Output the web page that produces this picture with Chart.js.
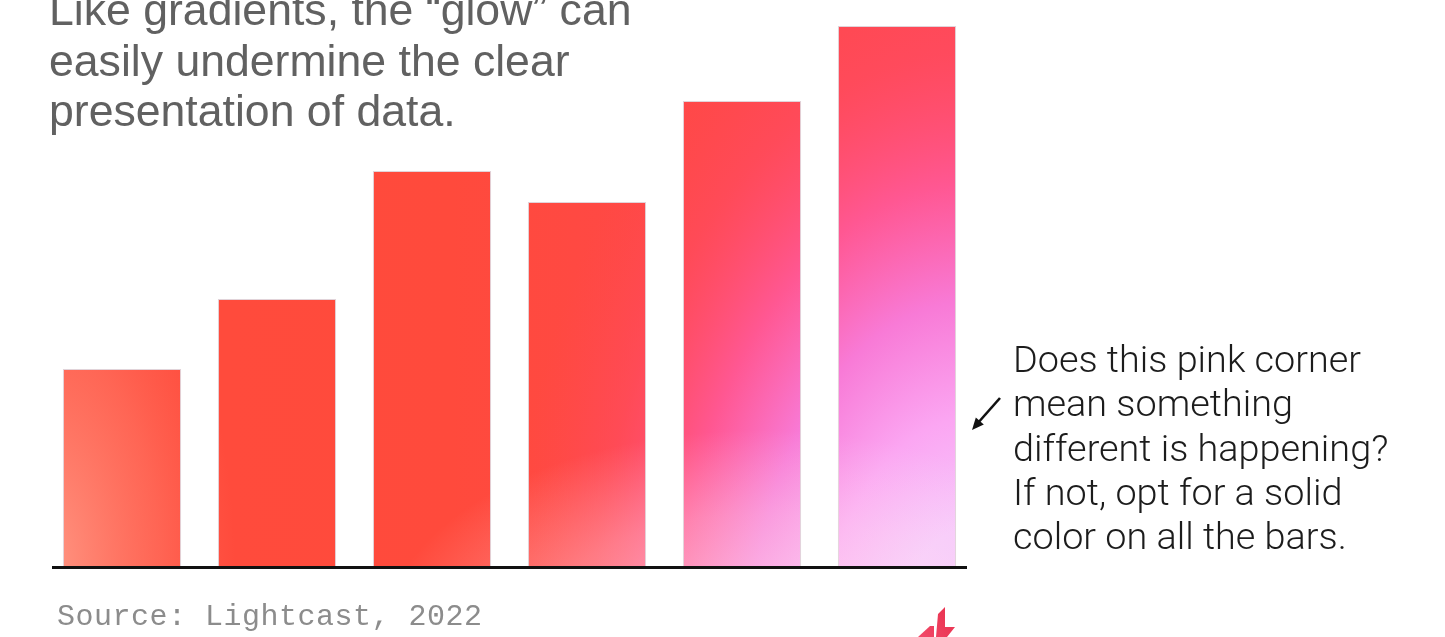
<!DOCTYPE html>
<html>
<head>
<meta charset="utf-8">
<script src="https://cdn.jsdelivr.net/npm/chart.js@4/dist/chart.umd.min.js"></script>
<style>
  html, body { margin: 0; padding: 0; background: #ffffff; }
  #wrap { position: relative; width: 1445px; height: 637px; overflow: hidden; background: #fff; }
  #c { position: absolute; left: 0; top: 0; }
  .title { position: absolute; left: 49px; top: -15px; font-family: "Liberation Sans", Arial, sans-serif; font-size: 44.6px; line-height: 50.5px; color: #616161; white-space: nowrap; }
  .note { position: absolute; left: 1013px; top: 337px; font-family: "Roboto", "Liberation Sans", sans-serif; font-weight: 300; font-size: 37.8px; line-height: 44.3px; color: #1c1c1c; white-space: nowrap; }
  .source { position: absolute; left: 57px; top: 600px; font-family: "Liberation Mono", "DejaVu Sans Mono", monospace; font-size: 30px; line-height: 34px; color: #8c8c8c; white-space: nowrap; letter-spacing: 0.5px; }
</style>
</head>
<body>
<div id="wrap">
  <canvas id="c" width="1445" height="637"></canvas>
  <div class="title">Like gradients, the “glow” can<br>easily undermine the clear<br>presentation of data.</div>
  <div class="note">Does this pink corner<br>mean something<br>different is happening?<br>If not, opt for a solid<br>color on all the bars.</div>
  <div class="source">Source: Lightcast, 2022</div>
</div>
<script>
// ---- data ----
const categories = ['Bar 1', 'Bar 2', 'Bar 3', 'Bar 4', 'Bar 5', 'Bar 6'];
const values = [197, 267, 395, 364, 465, 540];
const yMin = 0;
const yMax = 540;

// ---- glow fill (a pattern painted across the whole canvas) ----
let glowPattern = null;
function getGlow(ctx) {
  if (glowPattern) return glowPattern;
  const W = 1445, H = 637;
  const off = document.createElement('canvas');
  off.width = W; off.height = H;
  const g = off.getContext('2d');
  const base = g.createLinearGradient(0, 0, 1000, 0);
  base.addColorStop(0, '#ff4c3c');
  base.addColorStop(0.45, '#ff4a3c');
  base.addColorStop(0.7, '#ff4848');
  base.addColorStop(1, '#ff4858');
  g.fillStyle = base;
  g.fillRect(0, 0, W, H);

  // coral glow bottom-left
  g.save();
  g.translate(45, 570);
  g.scale(1, 2);
  let rg = g.createRadialGradient(0, 0, 0, 0, 0, 190);
  rg.addColorStop(0, 'rgba(255,178,158,0.75)');
  rg.addColorStop(0.6, 'rgba(255,150,130,0.35)');
  rg.addColorStop(1, 'rgba(255,130,110,0)');
  g.fillStyle = rg;
  g.fillRect(-300, -400, 600, 800);
  g.restore();

  // pink glow bottom-right
  g.save();
  g.translate(975, 650);
  g.scale(0.72, 1.12);
  rg = g.createRadialGradient(0, 0, 0, 0, 0, 650);
  rg.addColorStop(0, '#f2c6fd');
  rg.addColorStop(0.17, '#f6c6fc');
  rg.addColorStop(0.32, '#fba6f2');
  rg.addColorStop(0.48, '#f87ad6');
  rg.addColorStop(0.64, 'rgba(255,88,150,0.95)');
  rg.addColorStop(0.82, 'rgba(255,76,100,0.55)');
  rg.addColorStop(1, 'rgba(255,74,80,0)');
  g.fillStyle = rg;
  g.fillRect(-2000, -1000, 4000, 2000);
  g.restore();

  // light haze along the bottom
  g.save();
  g.translate(760, 640);
  g.scale(1.8, 1);
  rg = g.createRadialGradient(0, 0, 0, 0, 0, 210);
  rg.addColorStop(0, 'rgba(255,238,244,0.6)');
  rg.addColorStop(0.6, 'rgba(255,232,240,0.3)');
  rg.addColorStop(1, 'rgba(255,230,240,0)');
  g.fillStyle = rg;
  g.fillRect(-600, -400, 1200, 800);
  g.restore();

  glowPattern = ctx.createPattern(off, 'no-repeat');
  return glowPattern;
}

// ---- decorations: baseline, arrow, logo ----
const decor = {
  id: 'decor',
  afterDatasetsDraw(chart) {
    const ctx = chart.ctx;
    const a = chart.chartArea;
    const y0 = chart.scales.y.getPixelForValue(0);
    ctx.save();
    // baseline
    ctx.strokeStyle = '#111111';
    ctx.lineWidth = 3;
    ctx.beginPath();
    ctx.moveTo(a.left + 7.5, y0 + 1.5);
    ctx.lineTo(a.right - 7.5, y0 + 1.5);
    ctx.stroke();

    // arrow pointing at the pink corner
    const ax = a.right + 25.5, ay = 398;
    const bx = a.right - 2.5, by = 430;
    ctx.strokeStyle = '#111';
    ctx.fillStyle = '#111';
    ctx.lineWidth = 2.6;
    ctx.beginPath();
    ctx.moveTo(ax, ay);
    ctx.lineTo(bx + 5, by - 6);
    ctx.stroke();
    const ang = Math.atan2(by - ay, bx - ax);
    ctx.beginPath();
    ctx.moveTo(bx, by);
    ctx.lineTo(bx - 13 * Math.cos(ang - 0.42), by - 13 * Math.sin(ang - 0.42));
    ctx.lineTo(bx - 13 * Math.cos(ang + 0.42), by - 13 * Math.sin(ang + 0.42));
    ctx.closePath();
    ctx.fill();

    // small logo mark
    const lg = ctx.createLinearGradient(918, 636, 955, 608);
    lg.addColorStop(0, '#f24a6a');
    lg.addColorStop(1, '#e8304c');
    ctx.fillStyle = lg;
    ctx.beginPath();
    ctx.moveTo(938, 614); ctx.lineTo(945, 607); ctx.lineTo(945, 627);
    ctx.lineTo(955, 627); ctx.lineTo(947, 637); ctx.lineTo(936, 637);
    ctx.closePath(); ctx.fill();
    ctx.beginPath();
    ctx.moveTo(918, 637); ctx.lineTo(930, 626); ctx.lineTo(934, 626);
    ctx.lineTo(934, 637);
    ctx.closePath(); ctx.fill();
    ctx.restore();
  }
};

const chart = new Chart(document.getElementById('c'), {
  type: 'bar',
  data: {
    labels: categories,
    datasets: [{
      data: values,
      backgroundColor: (c) => getGlow(c.chart.ctx),
      borderColor: 'rgba(200,175,185,0.55)',
      borderWidth: 1,
      barPercentage: 0.762,
      categoryPercentage: 1.0
    }]
  },
  options: {
    responsive: false,
    animation: false,
    layout: { padding: { left: 44.5, right: 470.5, top: 26, bottom: 71 } },
    plugins: { legend: { display: false }, tooltip: { enabled: false } },
    scales: {
      x: { display: false, grid: { display: false } },
      y: { display: false, min: yMin, max: yMax, grid: { display: false } }
    }
  },
  plugins: [decor]
});
</script>
</body>
</html>
